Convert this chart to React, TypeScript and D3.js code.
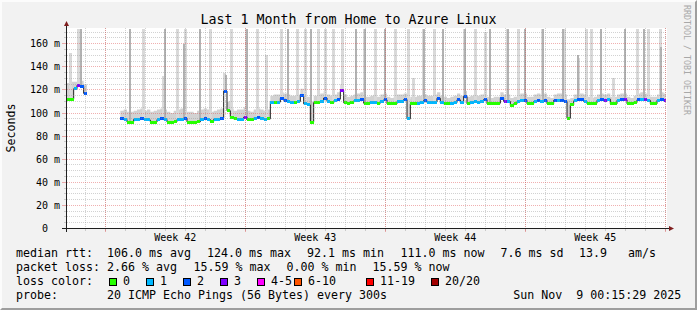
import React from 'react';
import * as d3 from 'd3';

// ---------- data ----------
const START = Date.UTC(2025, 9, 10, 2, 0, 0); // left edge of graph
const END = Date.UTC(2025, 10, 9, 2, 0, 0); // right edge of graph
const LAST = Date.UTC(2025, 10, 9, 0, 15, 29); // last sample
const BIN_HOURS = 4;
const Y_MAX = 173.2;

// median rtt (ms) per 4-hour bin
const medianMs: (number | null)[] = [
  112, 112, 121, 124, 123, 117, null, null, null, null,
  null, null, null, null, null, null, 95, 94.4, 92.2, 92.2,
  94.4, 94.4, 95, 94.4, 94, 92.2, 92.2, 94.4, 95, 94.4,
  92.2, 92.2, 92.5, 94.4, 94.4, 95.6, 92.2, 92.1, 92.2, 92.5,
  94.4, 95, 94.4, 92.6, 94.4, 94.4, 95.5, 119, 102, 96.4,
  95, 94.4, 94.4, 96.4, 94, 94, 95.5, 96.5, 95.5, 94.5,
  95, 109.5, 109.5, 109.5, 112.8, 111, 110, 109.5, 109, 110,
  115, 108, 107, 92.1, 109, 109.4, 110, 113, 110, 109,
  110.5, 112, 119.5, 109, 108.5, 109, 110.5, 110.8, 112, 108.5,
  108.5, 109, 109, 108.5, 110, 111.4, 108, 108, 108, 110,
  110, 111.7, 95, 108, 108, 108.5, 109, 110.8, 109, 109,
  109.5, 112.8, 109, 108, 108, 108.5, 109, 111.4, 109, 114.5,
  108, 109, 110, 109, 110, 111.7, 108, 108, 108, 108.5,
  112.8, 110, 110, 106.5, 108, 110, 111, 111, 108, 108,
  110, 111, 110, 111, 108, 108, 111, 111, 111, 110,
  95.5, 107, 110.5, 111.7, 111.5, 110, 108, 108, 108.5, 111,
  112, 110.5, 112, 108, 108, 111, 111.5, 111.5, 108, 108,
  109, 111.5, 112, 111.5, 111, 108, 108, 111, 112, 111,
];

// lost pings (of 20) per bin
const lossCount: (number | null)[] = [
  0, 0, 1, 3, 2, 2, null, null, null, null,
  null, null, null, null, null, null, 2, 1, 0, 0,
  1, 1, 2, 1, 1, 0, 0, 1, 2, 1,
  0, 0, 0, 1, 1, 2, 0, 0, 0, 0,
  1, 2, 1, 0, 1, 1, 2, 2, 0, 0,
  0, 1, 1, 3, 0, 0, 1, 2, 1, 1,
  0, 1, 0, 1, 2, 2, 1, 1, 0, 1,
  2, 1, 1, 0, 0, 0, 1, 2, 1, 0,
  1, 2, 3, 0, 0, 0, 1, 1, 2, 0,
  0, 1, 1, 0, 1, 2, 0, 0, 0, 1,
  1, 2, 1, 0, 0, 1, 1, 2, 1, 1,
  1, 2, 1, 0, 0, 1, 1, 2, 1, 2,
  0, 1, 1, 1, 1, 2, 0, 0, 0, 0,
  2, 3, 1, 0, 0, 1, 1, 2, 0, 0,
  1, 2, 1, 2, 0, 0, 2, 1, 2, 2,
  0, 0, 1, 2, 2, 1, 0, 0, 0, 1,
  2, 3, 1, 0, 0, 1, 2, 3, 0, 0,
  0, 2, 1, 3, 1, 0, 0, 1, 2, 3,
];

// upper edge of the smoke band (ms) per bin
const smokeTopMs: (number | null)[] = [
  126, 127, 127, 128, 128, 125, null, null, null, null,
  null, null, null, null, null, null, 102, 103, 101, 101,
  102, 103, 104, 102, 103, 101, 102, 103, 104, 103,
  101, 100, 102, 103, 104, 104, 101, 101, 100, 102,
  103, 104, 103, 101, 102, 103, 104, 128, 110, 104,
  102, 103, 103, 105, 102, 101, 103, 104, 103, 102,
  103, 115, 116, 116, 118, 117, 116, 115, 115, 116,
  121, 115, 114, 110, 115, 116, 117, 119, 116, 115,
  116, 118, 125, 116, 114, 115, 116, 117, 118, 114,
  114, 115, 116, 114, 116, 117, 114, 113, 114, 116,
  116, 117, 112, 114, 114, 115, 115, 116, 115, 115,
  116, 118, 115, 114, 113, 114, 115, 117, 115, 119,
  114, 115, 116, 115, 116, 117, 114, 113, 114, 114,
  118, 116, 116, 113, 114, 116, 117, 117, 114, 114,
  116, 117, 116, 117, 114, 113, 116, 117, 117, 116,
  112, 113, 116, 117, 117, 116, 114, 113, 114, 116,
  117, 116, 117, 114, 114, 116, 117, 117, 114, 113,
  115, 117, 118, 117, 116, 114, 114, 116, 118, 117,
];

// isolated high pings: [hours since start, peak ms]
const lightSpikes: [number, number][] = [
  [3.6, 152], [13.2, 180], [91.2, 180], [115.2, 132], [132, 180], [141.6, 180],
  [171.6, 180], [188.4, 135], [196.8, 180], [214.8, 180], [228, 180], [238.8, 150],
  [256.8, 180], [276, 180], [285.6, 180], [301.2, 180], [309.6, 180], [319.2, 180],
  [330, 180], [356.4, 180], [369.6, 180], [393.6, 180], [409.2, 180], [415.2, 130],
  [427.2, 180], [440.4, 180], [476.4, 180], [489.6, 180], [501.6, 170], [528, 180],
  [541.2, 180], [570, 180], [596.4, 180], [613.2, 148], [622.8, 180], [628.8, 180],
  [655.2, 130], [684, 180], [697.2, 180], [711.6, 180],
];
const darkSpikes: [number, number][] = [
  [16.8, 180], [75.6, 180], [117.6, 180], [140.4, 160], [159.6, 180], [190.8, 133],
  [216, 180], [265.2, 180], [292.8, 180], [346.8, 180], [357.6, 180], [381.6, 180],
  [428.4, 180], [451.2, 180], [477.6, 180], [507.6, 180], [529.2, 180], [549.6, 180],
  [571.2, 180], [595.2, 180], [613.2, 150], [640.8, 180], [669.6, 180], [692.4, 180],
  [712.8, 157],
];

const yTickValues = [0, 20, 40, 60, 80, 100, 120, 140, 160];
const yTickLabels = ['0', '20 m', '40 m', '60 m', '80 m', '100 m', '120 m', '140 m', '160 m'];
const weekStarts = [Date.UTC(2025, 9, 12), Date.UTC(2025, 9, 19), Date.UTC(2025, 9, 26), Date.UTC(2025, 10, 2)];
const weekLabels = ['Week 42', 'Week 43', 'Week 44', 'Week 45'];

const lossLabels = ['0', '1', '2', '3', '4-5', '6-10', '11-19', '20/20'];
const lossColors = ['#26ff00', '#00b8ff', '#0059ff', '#7e00ff', '#ff00ff', '#ff5500', '#ff0000', '#a10000'];

const TITLE = 'Last 1 Month from Home to Azure Linux';
const rttLegend = ['median rtt:', '106.0 ms avg', '124.0 ms max', '92.1 ms min', '111.0 ms now', '7.6 ms sd', '13.9', 'am/s'];
const lossLegend = ['packet loss:', '2.66 % avg', '15.59 % max', '0.00 % min', '15.59 % now'];
const probeLegend = ['probe:', '20 ICMP Echo Pings (56 Bytes) every 300s'];
const STAMP = 'Sun Nov  9 00:15:29 2025';

// ---------- layout ----------
const W = 697;
const H = 310;
const X0 = 67;
const X1 = 667;
const YB = 228.5;
const YT = 28.5;
const MONO = '"DejaVu Sans Mono", monospace';
const rttX = [16, 107, 207, 307, 400.5, 500.5, 579, 628];
const lossX = [16, 107, 193.5, 286.5, 372.5];
const boxX = [109, 146, 183, 220, 257, 294, 366, 431];

export default function App() {
  const x = d3.scaleUtc().domain([new Date(START), new Date(END)]).range([X0, X1]);
  const y = d3.scaleLinear().domain([0, Y_MAX]).range([YB, YT]);
  const H_MS = 3600 * 1000;
  const binStart = (i: number) => new Date(START + i * BIN_HOURS * H_MS);
  const binEnd = (i: number) => new Date(Math.min(START + (i + 1) * BIN_HOURS * H_MS, LAST));

  // contiguous segments
  const segments: number[][] = [];
  let cur: number[] = [];
  medianMs.forEach((v, i) => {
    if (v == null) {
      if (cur.length) segments.push(cur);
      cur = [];
    } else cur.push(i);
  });
  if (cur.length) segments.push(cur);

  type P = { t: Date; v: number; top: number };
  const stepPts = (seg: number[]): P[] => {
    const last = seg[seg.length - 1];
    return [
      ...seg.map((i) => ({ t: binStart(i), v: medianMs[i] as number, top: smokeTopMs[i] as number })),
      { t: binEnd(last), v: medianMs[last] as number, top: smokeTopMs[last] as number },
    ];
  };
  const smokeArea = d3
    .area<P>()
    .curve(d3.curveStepAfter)
    .x((d) => x(d.t))
    .y0((d) => y(d.v) + 1)
    .y1((d) => y(Math.min(d.top, Y_MAX)));
  const medLine = d3
    .line<P>()
    .curve(d3.curveStepAfter)
    .x((d) => x(d.t))
    .y((d) => y(d.v));

  const spikeBase = (h: number) => {
    const idx = Math.floor(h / BIN_HOURS);
    return medianMs[idx] ?? 100;
  };

  const days = d3.utcDay.range(new Date(START), new Date(END));
  const sundays = d3.utcSunday.range(new Date(START), new Date(END));
  const minorY: number[] = d3.range(5, Y_MAX, 5).filter((v) => v % 20 !== 0);
  const majorY = yTickValues.filter((v) => v > 0);
  const px = (v: number) => Math.floor(v) + 0.5;

  const minorStroke = 'rgba(143,143,143,0.4)';
  const majorStroke = 'rgba(222,79,79,0.45)';

  return (
    <svg
      width={W}
      height={H}
      viewBox={`0 0 ${W} ${H}`}
      style={{ position: 'absolute', left: 0, top: 0, display: 'block' }}
      fontFamily={MONO}
    >
      {/* background and 3d frame */}
      <rect x={0} y={0} width={W} height={H} fill="#f2f2f2" />
      <polygon points={`0,0 ${W},0 ${W - 2},2 2,2 2,${H - 2} 0,${H}`} fill="#fcfcfc" />
      <polygon points={`${W},0 ${W},${H} 0,${H} 2,${H - 2} ${W - 2},${H - 2} ${W - 2},2`} fill="#9e9e9e" />

      {/* canvas */}
      <rect x={X0} y={28} width={X1 - X0} height={201} fill="#ffffff" />

      {/* smoke band */}
      <g>
        {segments.map((seg, k) => (
          <path key={k} d={smokeArea(stepPts(seg)) || ''} fill="#d2d2d2" />
        ))}
      </g>
      {/* spikes */}
      <g shapeRendering="crispEdges">
        {lightSpikes.map(([h, peak], k) => {
          const cx = x(new Date(START + h * H_MS));
          const top = y(Math.min(peak, Y_MAX));
          return <rect key={k} x={cx - 1.5} y={top} width={3} height={y(spikeBase(h)) - top} fill="#d9d9d9" />;
        })}
        {darkSpikes.map(([h, peak], k) => {
          const cx = x(new Date(START + h * H_MS));
          const top = y(Math.min(peak, Y_MAX));
          return <rect key={k} x={cx - 1} y={top} width={2} height={y(spikeBase(h)) - top} fill="#b2b2b2" />;
        })}
      </g>

      {/* median line */}
      {segments.map((seg, k) => (
        <path key={k} d={medLine(stepPts(seg)) || ''} fill="none" stroke="#202020" strokeWidth={1} />
      ))}
      {/* loss colored median band */}
      <g shapeRendering="crispEdges">
        {medianMs.map((v, i) => {
          if (v == null || lossCount[i] == null) return null;
          const xa = x(binStart(i));
          const xb = x(binEnd(i));
          const c = lossColors[Math.min(lossCount[i] as number, 3)];
          return <rect key={i} x={xa} y={y(v) - 1.5} width={xb - xa} height={3} fill={c} />;
        })}
      </g>

      {/* grid */}
      <g strokeWidth={1} strokeDasharray="1,1" fill="none">
        {minorY.map((v) => (
          <line key={'hy' + v} x1={X0} x2={X1} y1={px(y(v))} y2={px(y(v))} stroke={minorStroke} />
        ))}
        {days.map((d) => (
          <line key={'vx' + +d} x1={px(x(d))} x2={px(x(d))} y1={28} y2={YB} stroke={minorStroke} />
        ))}
        {majorY.map((v) => (
          <line key={'My' + v} x1={X0} x2={X1} y1={px(y(v))} y2={px(y(v))} stroke={majorStroke} />
        ))}
        {sundays.map((d) => (
          <line key={'Mx' + +d} x1={px(x(d))} x2={px(x(d))} y1={28} y2={YB} stroke={majorStroke} />
        ))}
      </g>
      {/* ticks */}
      <g strokeWidth={1}>
        {minorY.map((v) => (
          <line key={'ty' + v} x1={64} x2={66} y1={px(y(v))} y2={px(y(v))} stroke={minorStroke} />
        ))}
        {majorY.map((v) => (
          <line key={'tY' + v} x1={62} x2={66} y1={px(y(v))} y2={px(y(v))} stroke={majorStroke} />
        ))}
        {days.map((d) => (
          <line key={'tx' + +d} x1={px(x(d))} x2={px(x(d))} y1={229} y2={231} stroke={minorStroke} />
        ))}
        {sundays.map((d) => (
          <line key={'tX' + +d} x1={px(x(d))} x2={px(x(d))} y1={229} y2={232} stroke={majorStroke} />
        ))}
      </g>

      {/* axes */}
      <line x1={62} x2={671} y1={YB} y2={YB} stroke="#1f1f1f" strokeWidth={1} />
      <line x1={66.5} x2={66.5} y1={232} y2={25} stroke="#1f1f1f" strokeWidth={1} />
      <polygon points="64,26 69,26 66.5,21" fill="#801f1f" />
      <polygon points="669,226 669,231 674,228.5" fill="#801f1f" />

      {/* y tick labels */}
      <g fontSize={10} textAnchor="end" fill="#000">
        {yTickValues.map((v, k) => (
          <text key={v} x={yTickLabels[k].endsWith(' m') ? 60 : 48} y={px(y(v)) + 3.5}>
            {yTickLabels[k]}
          </text>
        ))}
      </g>
      {/* x labels */}
      <g fontSize={10} textAnchor="middle" fill="#000">
        {weekStarts.map((w, k) => (
          <text key={w} x={x(new Date(w + 3.5 * 24 * H_MS))} y={241}>
            {weekLabels[k]}
          </text>
        ))}
      </g>

      {/* title and labels */}
      <text x={W / 2} y={23.5} fontSize={13.3} textAnchor="middle" fill="#000">
        {TITLE}
      </text>
      <text transform="translate(14.5,128) rotate(-90)" fontSize={11.6} textAnchor="middle" fill="#000">
        Seconds
      </text>
      <text transform="translate(684,5) rotate(90)" fontSize={8.3} fill="#a8a8a8">
        RRDTOOL / TOBI OETIKER
      </text>

      {/* legend */}
      <g fontSize={11.63} fill="#000" style={{ whiteSpace: 'pre' }}>
        {rttLegend.map((s, k) => (
          <text key={'r' + k} x={rttX[k]} y={257.3}>
            {s}
          </text>
        ))}
        {lossLegend.map((s, k) => (
          <text key={'l' + k} x={lossX[k]} y={271.3}>
            {s}
          </text>
        ))}
        <text x={16} y={285.3}>loss color:</text>
        {lossLabels.map((s, k) => (
          <g key={'c' + k}>
            <rect x={boxX[k] + 0.5} y={278.5} width={7} height={7} fill={lossColors[k]} stroke="#000" strokeWidth={1} />
            <text x={boxX[k] + 14} y={285.3}>
              {s}
            </text>
          </g>
        ))}
        <text x={16} y={299.3}>{probeLegend[0]}</text>
        <text x={107} y={299.3}>{probeLegend[1]}</text>
        <text x={513.3} y={299.3} xmlSpace="preserve">
          {STAMP}
        </text>
      </g>
    </svg>
  );
}
